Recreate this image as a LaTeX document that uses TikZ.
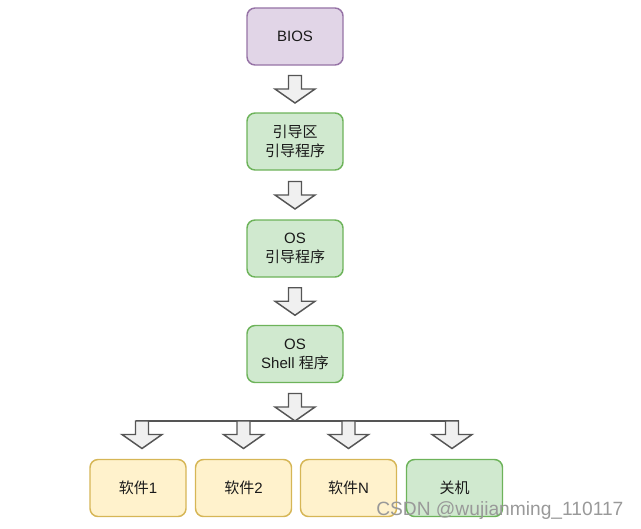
\documentclass[tikz,border=0pt]{standalone}
\usepackage{fontspec}
\setmainfont{Liberation Sans}
\newfontfamily\cjk{Noto Sans CJK SC}
\usetikzlibrary{calc}
\definecolor{purfill}{HTML}{E1D5E7}
\definecolor{purdraw}{HTML}{9673A6}
\definecolor{grnfill}{HTML}{D0E9CF}
\definecolor{grndraw}{HTML}{6DB35A}
\definecolor{yelfill}{HTML}{FFF2CC}
\definecolor{yeldraw}{HTML}{D6B656}
\definecolor{arrline}{HTML}{555555}
\definecolor{arrfill}{HTML}{F0F0F0}
\definecolor{txt}{HTML}{1A1A1A}
\tikzset{
  box/.style={rounded corners=6pt, line width=1.1pt, minimum width=72pt, minimum height=42.75pt,
    inner sep=0pt, align=center, text=txt, font=\fontsize{11.25}{14.25}\selectfont},
  purbox/.style={box, fill=purfill, draw=purdraw},
  grnbox/.style={box, fill=grnfill, draw=grndraw},
  yelbox/.style={box, fill=yelfill, draw=yeldraw},
  blockarrow/.style={draw=arrline, fill=arrfill, line width=1.1pt, line join=miter},
  busline/.style={draw=arrline, line width=1.1pt},
}
\newcommand\barrow[1]{%
  \draw[blockarrow] ([shift={(-6.5,-13.5)}]#1) -- ([shift={(6.5,-13.5)}]#1) -- ([shift={(6.5,0)}]#1)
    -- ([shift={(20,0)}]#1) -- ([shift={(0,14)}]#1) -- ([shift={(-20,0)}]#1) -- ([shift={(-6.5,0)}]#1) -- cycle;}
\begin{document}
\begin{tikzpicture}[x=0.75pt, y=-0.75pt]
\useasboundingbox (0,0) rectangle (641,528);
\node[purbox] (bios) at (295,36.5) {BIOS};
\node[grnbox] (boot) at (295,141.5) {{\cjk 引导区}\\{\cjk 引导程序}};
\node[grnbox] (osl) at (295,248.5) {OS\\{\cjk 引导程序}};
\node[grnbox] (shell) at (295,354) {OS\\Shell {\cjk 程序}};
\node[yelbox] (s1) at (138,488) {{\cjk 软件}1};
\node[yelbox] (s2) at (243.5,488) {{\cjk 软件}2};
\node[yelbox] (sn) at (348.5,488) {{\cjk 软件}N};
\node[grnbox] (off) at (454.5,488) {{\cjk 关机}};
% block arrows between the stacked boxes
\coordinate (m1) at ($(bios.south)!0.5!(boot.north)$);
\coordinate (m2) at ($(boot.south)!0.5!(osl.north)$);
\coordinate (m3) at ($(osl.south)!0.5!(shell.north)$);
\barrow{m1}
\barrow{m2}
\barrow{m3}
% bus
\coordinate (busL) at (135.5,421);
\coordinate (busR) at (458.5,421);
\draw[busline] (busL) -- (busR);
\coordinate (mc) at (295,407);
\barrow{mc}
\coordinate (a1) at (142,434.5);
\coordinate (a2) at (243.5,434.5);
\coordinate (a3) at (348.5,434.5);
\coordinate (a4) at (452,434.5);
\barrow{a1}
\barrow{a2}
\barrow{a3}
\barrow{a4}
% watermark
\node[anchor=base west, inner sep=0pt, text=black!40, font=\fontsize{14.4}{16}\selectfont] (wm) at (376,515) {CSDN @wujianming\_110117};
\end{tikzpicture}
\end{document}
